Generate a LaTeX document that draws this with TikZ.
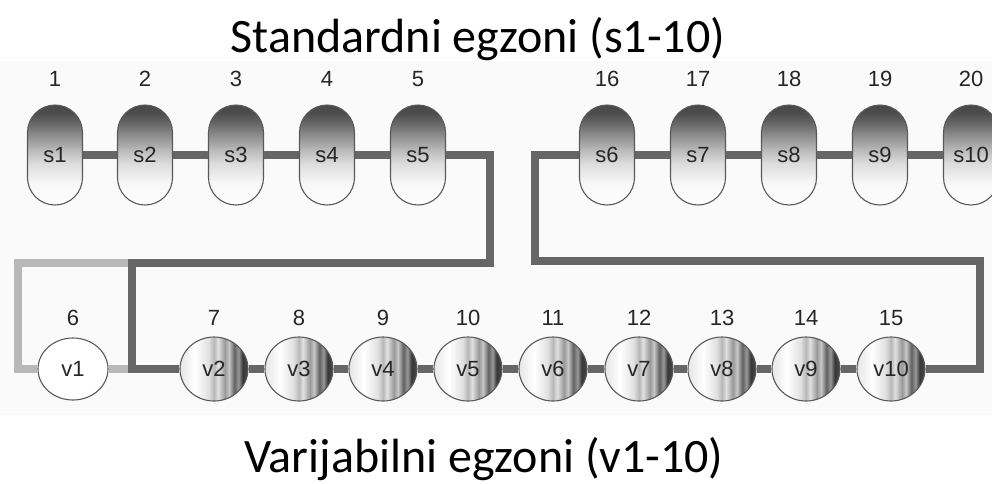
\documentclass[tikz,border=0pt]{standalone}
\usepackage{fontspec}
\setmainfont{Liberation Sans}
\newfontfamily\titlefont{Carlito}
\usetikzlibrary{shapes.geometric}

% banded grey-to-white shading of the standard exons (bottom -> top)
\pgfdeclareverticalshading{pillshade}{100bp}{%
  color(0bp)=(white); color(25bp)=(white); color(36bp)=(black!3);
  color(46bp)=(black!14); color(52bp)=(black!26); color(57bp)=(black!38);
  color(62bp)=(black!50); color(67bp)=(black!62); color(71bp)=(black!70);
  color(75bp)=(black!72); color(100bp)=(black!72)}
% striped light-to-dark shading of the variable exons (left -> right)
\pgfdeclarehorizontalshading{varshade}{100bp}{%
  color(0bp)=(white); color(25bp)=(black!10); color(36bp)=(white);
  color(46bp)=(black!12); color(50bp)=(black!28); color(53bp)=(black!12);
  color(58bp)=(black!40); color(61bp)=(black!22); color(65bp)=(black!62);
  color(68bp)=(black!40); color(71bp)=(black!78); color(75bp)=(black!72);
  color(100bp)=(black!72)}

\tikzset{
  labelfont/.style={font=\fontsize{22}{22}\selectfont},
  stdexon/.style={rectangle, rounded corners=27.5pt, minimum width=55pt,
    minimum height=100pt, inner sep=0pt, shading=pillshade,
    draw=black!65, line width=1.1pt, text=black!85, labelfont},
  varexon/.style={ellipse, minimum width=68pt, minimum height=64pt, inner sep=0pt,
    shading=varshade, draw=black!65, line width=1.1pt, text=black!85, labelfont},
  firstexon/.style={ellipse, minimum width=70pt, minimum height=62pt, inner sep=0pt,
    fill=white, draw=black!65, line width=1.1pt, text=black!85, labelfont},
  exonnum/.style={anchor=base, text=black!85, labelfont},
  link/.style={draw=black!60, line width=7.5pt, line join=miter},
  skiplink/.style={draw=black!28, line width=7.5pt, line join=miter},
  heading/.style={anchor=base, font=\titlefont\fontsize{48}{48}\selectfont}
}

\begin{document}
\begin{tikzpicture}[x=1pt, y=-1pt]
\useasboundingbox (0,0) rectangle (992,483);
\fill[black!2] (0,61) rectangle (992,415);

% headings
\node[heading] (htop) at (478,52) {Standardni egzoni (s1-10)};
\node[heading] (hbot) at (484,472) {Varijabilni egzoni (v1-10)};

% corner points of the connecting track
\coordinate (c1) at (490,263);
\coordinate (c2) at (132,263);
\coordinate (c3) at (980,261);
\coordinate (c4) at (535,261);
\coordinate (c5) at (18,263);
\coordinate (c6) at (132,369);

% standard exons
\foreach \i/\x/\n in {1/55/1, 2/145/2, 3/236/3, 4/327/4, 5/418/5,
                      6/607/16, 7/698/17, 8/789/18, 9/880/19, 10/971/20} {
  \node[stdexon] (s\i) at (\x,155) {s\i};
  \node[exonnum] (ns\i) at (\x,86) {\n};
}

% variable exons
\node[firstexon] (v1) at (73,369) {v1};
\node[exonnum] (nv1) at (73,325) {6};
\foreach \i/\x/\n in {2/214/7, 3/299/8, 4/383/9, 5/468/10, 6/553/11,
                      7/639/12, 8/722/13, 9/806/14, 10/891/15} {
  \node[varexon] (v\i) at (\x,369) {v\i};
  \node[exonnum] (nv\i) at (\x,325) {\n};
}

% skipped first variable exon
\draw[skiplink] (v1.west) -| (c5) -- (c2);
\draw[skiplink] (v1.east) -- (c6);

% main track
\foreach \a/\b in {s1/s2, s2/s3, s3/s4, s4/s5, s6/s7, s7/s8, s8/s9, s9/s10,
                   v2/v3, v3/v4, v4/v5, v5/v6, v6/v7, v7/v8, v8/v9, v9/v10}
  \draw[link] (\a.east) -- (\b.west);
\draw[link] (s5.east) -| (c1) -- (c2) |- (v2.west);
\draw[link] (v10.east) -| (c3) -- (c4) |- (s6.west);
\end{tikzpicture}
\end{document}
